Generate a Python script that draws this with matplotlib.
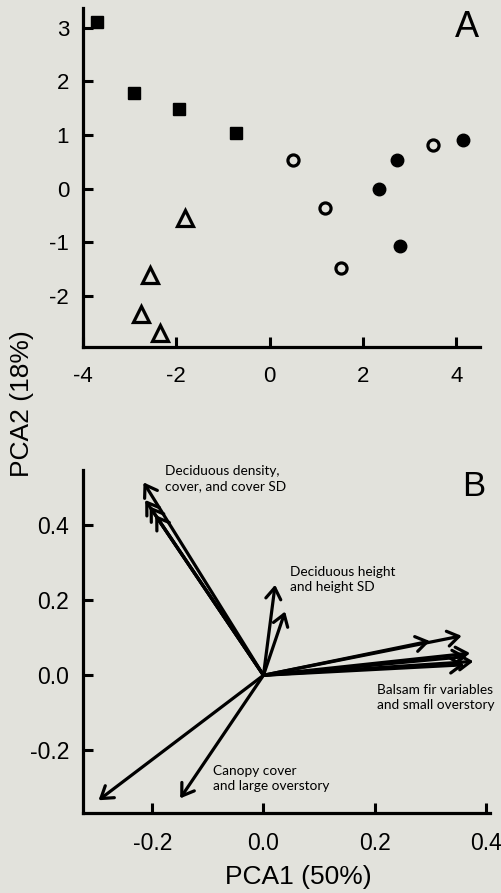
import matplotlib
matplotlib.use("Agg")
import matplotlib.pyplot as plt

# ---------------- data ----------------
# Panel A: site scores
sq_x = [-3.70, -2.90, -1.94, -0.71]
sq_y = [3.11, 1.78, 1.49, 1.04]
oc_x = [0.51, 1.19, 1.54, 3.50]
oc_y = [0.53, -0.35, -1.47, 0.81]
fc_x = [2.35, 2.73, 2.80, 4.14]
fc_y = [-0.01, 0.53, -1.07, 0.91]
tr_x = [-1.81, -2.56, -2.76, -2.36]
tr_y = [-0.55, -1.61, -2.33, -2.69]
a_xticks = [-4, -2, 0, 2, 4]
a_yticks = [-2, -1, 0, 1, 2, 3]

# Panel B: variable loadings
load_x = [-0.216, -0.213, -0.205, -0.195,
          0.021, 0.039,
          0.300, 0.357, 0.372, 0.366, 0.378, 0.362,
          -0.297, -0.150]
load_y = [0.514, 0.467, 0.450, 0.427,
          0.241, 0.170,
          0.091, 0.105, 0.059, 0.050, 0.037, 0.028,
          -0.333, -0.328]
b_xticks = [-0.2, 0.0, 0.2, 0.4]
b_yticks = [-0.2, 0.0, 0.2, 0.4]
group_labels = ["Deciduous density,\ncover, and cover SD",
                "Deciduous height\nand height SD",
                "Balsam fir variables\nand small overstory",
                "Canopy cover\nand large overstory"]
group_label_x = [-0.177, 0.048, 0.204, -0.091]
group_label_y = [0.525, 0.254, -0.058, -0.274]

BG = "#e2e2dc"
W, H = 502, 893
fig = plt.figure(figsize=(W / 100, H / 100), dpi=100, facecolor=BG)
plt.rcParams['font.family'] = ['Liberation Sans', 'DejaVu Sans']

def style_axes(ax, ticksize):
    ax.set_facecolor(BG)
    for s in ["top", "right"]:
        ax.spines[s].set_visible(False)
    for s in ["left", "bottom"]:
        ax.spines[s].set_linewidth(2.3)
    ax.tick_params(direction="in", length=7, width=2.2, labelsize=ticksize)
    ax.tick_params(axis="x", pad=14)
    ax.tick_params(axis="y", pad=10)

# ---------------- Panel A ----------------
axA = fig.add_axes([83 / W, 1 - 347 / H, (480 - 83) / W, (347 - 8) / H])
style_axes(axA, 16)
axA.set_xlim(-4, 4.51)
axA.set_ylim(-2.95, 3.37)
axA.plot(sq_x, sq_y, ls="none", marker="s", ms=8.5, color="black")
axA.plot(oc_x, oc_y, ls="none", marker="o", ms=8, mfc="none", mec="black", mew=2.3)
axA.plot(fc_x, fc_y, ls="none", marker="o", ms=9, color="black")
axA.plot(tr_x, tr_y, ls="none", marker="^", ms=11, mfc="none", mec="black", mew=2.3,
         clip_on=False)
axA.set_xticks(a_xticks)
axA.set_xticklabels([str(v) for v in a_xticks])
axA.set_yticks(a_yticks)
axA.set_yticklabels([str(v) for v in a_yticks])
axA.text(4.24, 3.0, "A", fontsize=26, ha="center", va="center")

# ---------------- Panel B ----------------
axB = fig.add_axes([83 / W, 1 - 813 / H, (490 - 83) / W, (813 - 470) / H])
style_axes(axB, 16.5)
axB.set_xlim(-0.325, 0.408)
axB.set_ylim(-0.367, 0.547)
for x, y in zip(load_x, load_y):
    axB.annotate("", xy=(x, y), xytext=(0, 0),
                 arrowprops=dict(arrowstyle="->,head_length=0.45,head_width=0.3",
                                 lw=2.3, color="black", shrinkA=0, shrinkB=0,
                                 mutation_scale=18))
axB.set_xticks(b_xticks)
axB.set_xticklabels([f"{v:.1f}" for v in b_xticks])
axB.set_yticks(b_yticks)
axB.set_yticklabels([f"{v:.1f}" for v in b_yticks])
for lab, x, y in zip(group_labels, group_label_x, group_label_y):
    axB.text(x, y, lab, fontsize=9.8, ha="left", va="center", linespacing=1.3,
             family=["Lato", "DejaVu Sans"], clip_on=False)
axB.text(0.378, 0.503, "B", fontsize=25, ha="center", va="center")

# shared labels
fig.text(21.7 / W, 1 - 404 / H, "PCA2 (18%)", rotation=90, fontsize=19,
         ha="center", va="center")
fig.text(298 / W, 1 - 877 / H, "PCA1 (50%)", fontsize=19, ha="center", va="center")

fig.savefig("out.png", dpi=100, facecolor=BG)
